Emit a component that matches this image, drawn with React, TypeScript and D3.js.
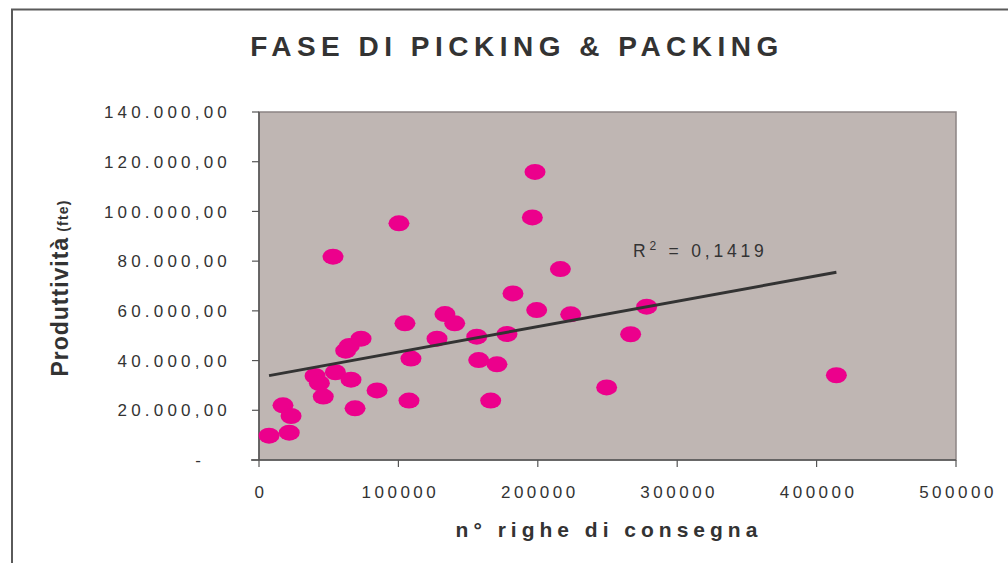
import React from "react";
import * as d3 from "d3";

// ---- data ----
const righe: number[] = [
  7200, 21700, 17200, 23000, 40200, 43300, 46100, 54800, 66000, 68900,
  53100, 62200, 64800, 73200, 84700, 100400, 104700, 109000, 107600, 127700,
  133400, 140400, 156200, 157600, 170700, 166200, 177900, 182200, 196100, 198000,
  199200, 216200, 223600, 249400, 266600, 278100, 414200,
];
const produttivita: number[] = [
  9800, 11000, 22000, 17700, 33800, 30900, 25500, 35300, 32300, 20800,
  81800, 44000, 45900, 48800, 28000, 95200, 55000, 40800, 23900, 48800,
  58700, 55000, 49600, 40200, 38500, 23900, 50700, 67000, 97600, 115900,
  60300, 76800, 58600, 29200, 50600, 61700, 34100,
];
const xTicks: number[] = [0, 100000, 200000, 300000, 400000, 500000];
const yTicks: number[] = [0, 20000, 40000, 60000, 80000, 100000, 120000, 140000];
const trendSlope = 0.1022;
const trendIntercept = 33215;
const r2Value = "0,1419";
const title = "FASE DI PICKING & PACKING";
const xTitle = "n° righe di consegna";
const yTitleMain = "Produttività";
const yTitleSub = "(fte)";

const W = 1008;
const H = 563;
const M = { left: 259, right: 956, top: 112, bottom: 460 };

const fmtY = (v: number) => {
  if (v === 0) return "-";
  const s = d3.format(",.2f")(v); // 140,000.00
  return s.replace(/,/g, "#").replace(".", ",").replace(/#/g, ".");
};

export default function App() {
  const x = d3.scaleLinear().domain([0, 500000]).range([M.left, M.right]);
  const y = d3.scaleLinear().domain([0, 140000]).range([M.bottom, M.top]);
  const pts = righe.map((r, i) => ({ x: r, y: produttivita[i] }));
  const [xmin, xmax] = d3.extent(righe) as [number, number];
  const line = d3
    .line<number>()
    .x((d) => x(d))
    .y((d) => y(trendSlope * d + trendIntercept));

  const font = "'Liberation Sans', Arial, sans-serif";
  const ink = "#333333";

  return (
    <svg
      width={W}
      height={H}
      style={{ position: "absolute", left: 0, top: 0, background: "#ffffff" }}
      fontFamily={font}
    >
      {/* outer chart frame */}
      <rect x={12} y={9.5} width={W + 20} height={H + 20} fill="#ffffff" stroke="#5a5a5a" strokeWidth={2} />

      {/* title */}
      <text
        x={517}
        y={56}
        textAnchor="middle"
        fontSize={28}
        fontWeight="bold"
        fill={ink}
        letterSpacing={5.5}
      >
        {title}
      </text>

      {/* plot area */}
      <rect
        x={M.left}
        y={M.top}
        width={M.right - M.left}
        height={M.bottom - M.top}
        fill="#BFB6B3"
        stroke="#8c8484"
        strokeWidth={1.5}
      />

      {/* axes */}
      <line x1={M.left} x2={M.left} y1={M.top} y2={M.bottom} stroke="#555" strokeWidth={1.5} />
      <line x1={M.left - 8} x2={M.right} y1={M.bottom} y2={M.bottom} stroke="#555" strokeWidth={1.5} />

      {yTicks.map((t) => (
        <g key={"y" + t}>
          <line x1={M.left - 7} x2={M.left} y1={y(t)} y2={y(t)} stroke="#555" strokeWidth={1.2} />
          <text
            x={t === 0 ? 205 : 231}
            y={y(t)}
            dy="0.36em"
            textAnchor="end"
            fontSize={17}
            fill={ink}
            letterSpacing={4.2}
          >
            {fmtY(t)}
          </text>
        </g>
      ))}

      {xTicks.map((t) => (
        <g key={"x" + t}>
          <line x1={x(t)} x2={x(t)} y1={M.bottom} y2={M.bottom + 7} stroke="#555" strokeWidth={1.2} />
          <text
            x={x(t) + 2}
            y={498}
            textAnchor="middle"
            fontSize={17}
            fill={ink}
            letterSpacing={3.5}
          >
            {String(t)}
          </text>
        </g>
      ))}

      {/* points */}
      {pts.map((p, i) => (
        <ellipse key={i} cx={x(p.x)} cy={y(p.y)} rx={10.5} ry={8} fill="#EC008C" />
      ))}

      {/* trendline */}
      <path d={line([xmin, xmax]) || ""} fill="none" stroke="#333333" strokeWidth={3} />

      {/* R² label */}
      <text x={633} y={257} fontSize={17.5} fill={ink} letterSpacing={3.8}>
        <tspan>R</tspan>
        <tspan dy={-7} fontSize={12}>2</tspan>
        <tspan dy={7}>{" = " + r2Value}</tspan>
      </text>

      {/* axis titles */}
      <text
        x={609}
        y={537}
        textAnchor="middle"
        fontSize={21}
        fontWeight="bold"
        fill={ink}
        letterSpacing={5}
      >
        {xTitle}
      </text>
      <text
        transform="translate(68,288) rotate(-90)"
        textAnchor="middle"
        fontWeight="bold"
        fill={ink}
      >
        <tspan fontSize={23} letterSpacing={1}>{yTitleMain}</tspan>
        <tspan fontSize={14} dx={5} letterSpacing={1.2}>{yTitleSub}</tspan>
      </text>
    </svg>
  );
}
